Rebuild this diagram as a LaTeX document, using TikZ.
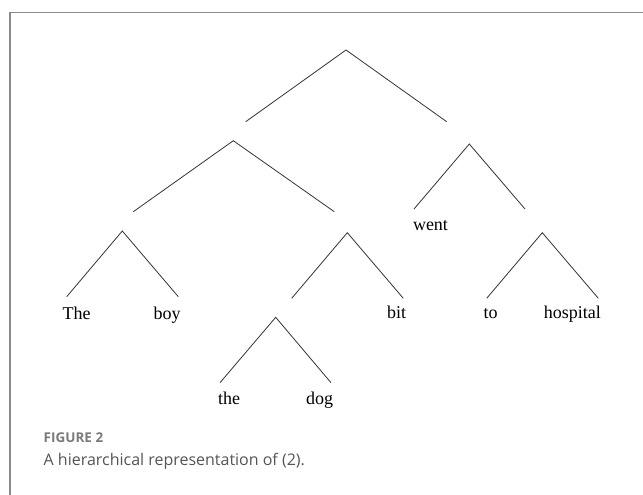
\documentclass[tikz,border=0pt]{standalone}
\usepackage{fontspec}
\setmainfont{Liberation Serif}
\newfontfamily\capfont{Open Sans}
\definecolor{framegray}{HTML}{8A8A8A}
\definecolor{linegray}{HTML}{333333}
\definecolor{capgray}{HTML}{7A7A7A}
\definecolor{textgray}{HTML}{555555}
\tikzset{
  branch/.style={draw=linegray, line width=0.8pt},
  word/.style={anchor=base, inner sep=0pt, font=\fontsize{18}{20}\selectfont, text=black},
}
\begin{document}
\begin{tikzpicture}[x=1pt,y=-1pt]
\useasboundingbox (0,0) rectangle (643,495);
\draw[framegray, line width=1.2pt] (10,495) -- (10,12.5) -- (643,12.5);
% coordinates
\coordinate (r)   at (346,50);
\coordinate (rl)  at (245.7,121.7);
\coordinate (rr)  at (446.7,121.7);
\coordinate (a)   at (233.3,140.7);
\coordinate (al)  at (133.3,211.7);
\coordinate (ar)  at (334.3,211.7);
\coordinate (b)   at (469.3,144);
\coordinate (bl)  at (414,209);
\coordinate (br)  at (525,209);
\coordinate (c)   at (122.3,231);
\coordinate (cl)  at (66.7,296.7);
\coordinate (cr)  at (178.3,296.7);
\coordinate (d)   at (347.3,232.7);
\coordinate (dl)  at (291.7,298.3);
\coordinate (dr)  at (403.3,298.3);
\coordinate (e)   at (542.3,232.7);
\coordinate (el)  at (486.7,298.3);
\coordinate (er)  at (598.3,298.3);
\coordinate (f)   at (275.7,317.3);
\coordinate (fl)  at (220,382.7);
\coordinate (fr)  at (331,382.7);
\draw[branch] (rl) -- (r) -- (rr);
\draw[branch] (al) -- (a) -- (ar);
\draw[branch] (bl) -- (b) -- (br);
\draw[branch] (cl) -- (c) -- (cr);
\draw[branch] (dl) -- (d) -- (dr);
\draw[branch] (el) -- (e) -- (er);
\draw[branch] (fl) -- (f) -- (fr);
% words
\node[word] (wThe) at (76.7,319) {The};
\node[word] (wboy) at (167,319) {boy};
\node[word] (wbit) at (396.7,318) {bit};
\node[word] (wto) at (490.7,318) {to};
\node[word] (whosp) at (572.3,318) {hospital};
\node[word] (wwent) at (430.5,230) {went};
\node[word] (wthe) at (229.2,404) {the};
\node[word] (wdog) at (319.7,404) {dog};
% caption
\node[anchor=base west, inner sep=0pt, text=capgray, font=\capfont\bfseries\fontsize{13.5}{16}\selectfont] (figlab) at (43.5,442) {FIGURE 2};
\node[anchor=base west, inner sep=0pt, text=textgray, font=\capfont\fontsize{16}{20}\selectfont] (figcap) at (43.5,465) {A hierarchical representation of (2).};
\end{tikzpicture}
\end{document}
